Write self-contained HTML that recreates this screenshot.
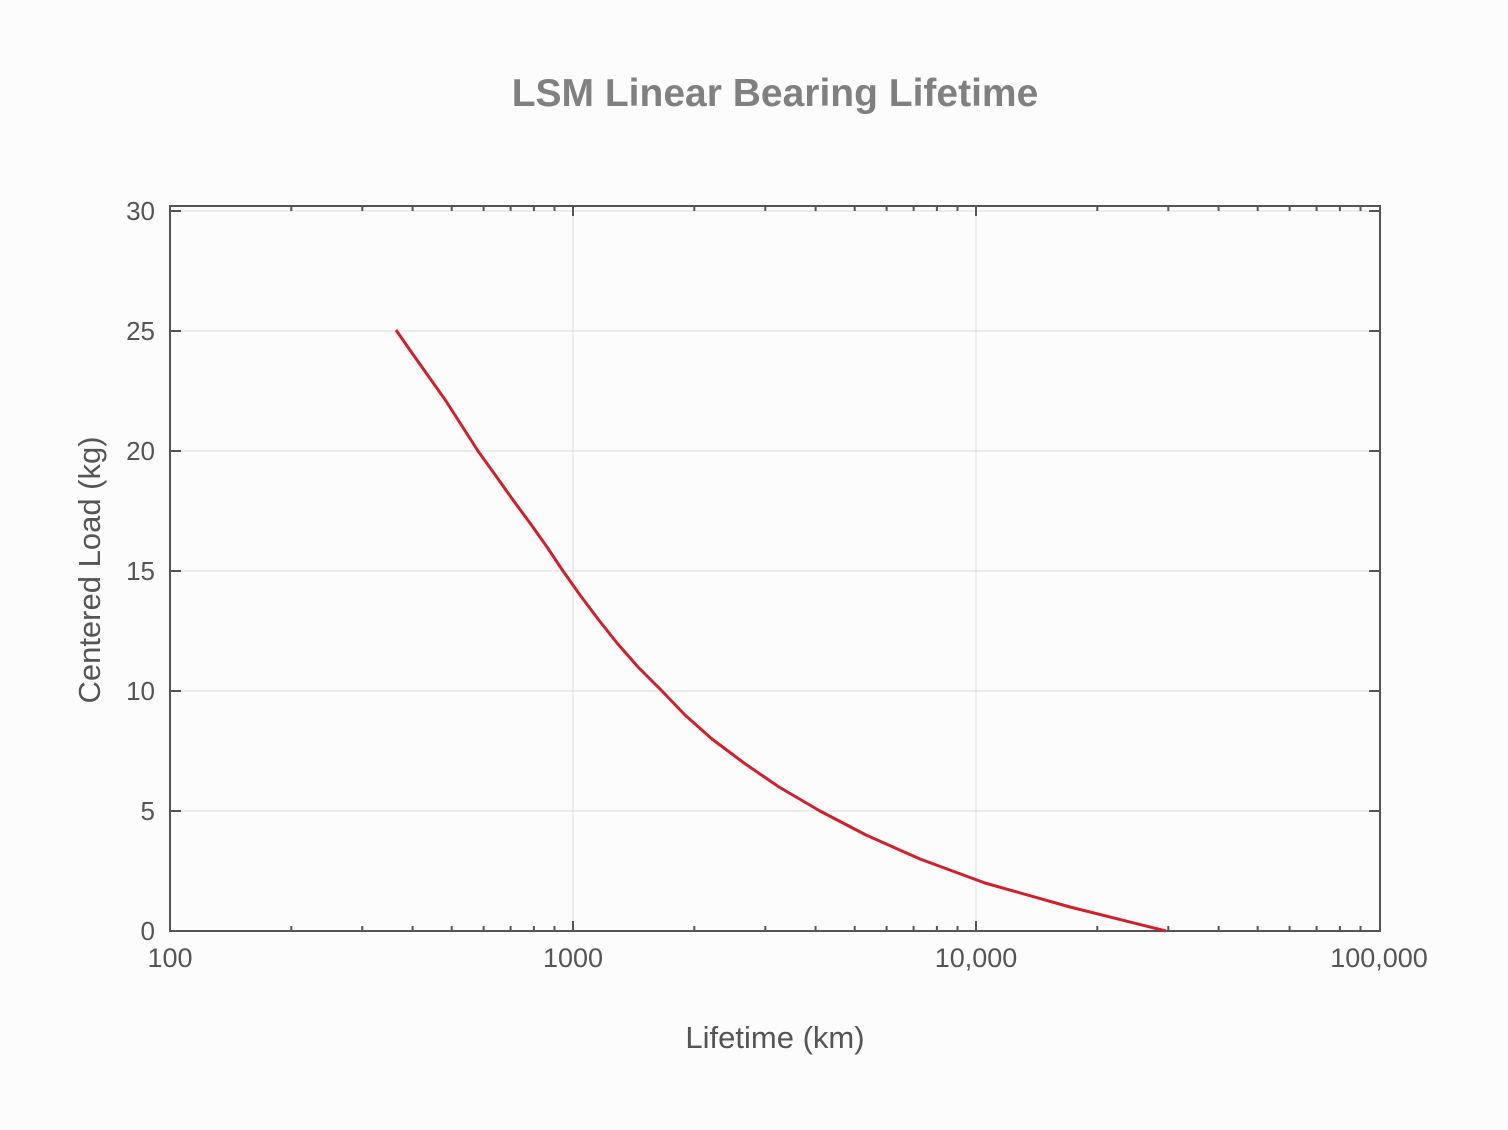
<!DOCTYPE html>
<html><head><meta charset="utf-8"><style>
html,body{margin:0;padding:0;background:#fcfcfc;}
svg{display:block;font-family:"Liberation Sans",Arial,sans-serif;}
</style></head><body>
<svg width="1508" height="1130" viewBox="0 0 1508 1130">
<rect width="1508" height="1130" fill="#fcfcfc"/>
<text x="775" y="106" text-anchor="middle" font-size="39" font-weight="bold" fill="#808080">LSM Linear Bearing Lifetime</text>
<g stroke="#dcdcdc" stroke-width="1">
<line x1="170" y1="211" x2="1380" y2="211"/><line x1="170" y1="331" x2="1380" y2="331"/>
<line x1="170" y1="451" x2="1380" y2="451"/><line x1="170" y1="571" x2="1380" y2="571"/>
<line x1="170" y1="691" x2="1380" y2="691"/><line x1="170" y1="811" x2="1380" y2="811"/>
<line x1="573" y1="206" x2="573" y2="931"/><line x1="976" y1="206" x2="976" y2="931"/>
</g>
<g stroke="#555" stroke-width="2">
<path d="M291.3 206v5M362.3 206v5M412.6 206v5M451.7 206v5M483.6 206v5M510.6 206v5M533.9 206v5M554.5 206v5M694.3 206v5M765.3 206v5M815.6 206v5M854.7 206v5M886.6 206v5M913.6 206v5M936.9 206v5M957.5 206v5M1097.3 206v5M1168.3 206v5M1218.6 206v5M1257.7 206v5M1289.6 206v5M1316.6 206v5M1339.9 206v5M1360.5 206v5M573 206v10M976 206v10"/>
<path d="M291.3 931v-5M362.3 931v-5M412.6 931v-5M451.7 931v-5M483.6 931v-5M510.6 931v-5M533.9 931v-5M554.5 931v-5M694.3 931v-5M765.3 931v-5M815.6 931v-5M854.7 931v-5M886.6 931v-5M913.6 931v-5M936.9 931v-5M957.5 931v-5M1097.3 931v-5M1168.3 931v-5M1218.6 931v-5M1257.7 931v-5M1289.6 931v-5M1316.6 931v-5M1339.9 931v-5M1360.5 931v-5M573 931v-10M976 931v-10"/>
<path d="M170 211h11M170 331h11M170 451h11M170 571h11M170 691h11M170 811h11M1380 211h-11M1380 331h-11M1380 451h-11M1380 571h-11M1380 691h-11M1380 811h-11"/>
<rect x="170" y="206" width="1210" height="725" fill="none"/>
</g>
<polyline fill="none" stroke="#d0202a" stroke-width="3" stroke-linejoin="round" points="396,330 412,353 446,401 478,451 496,476 513,500 530,523 547,547 563,571 580,595 598,619 617,643 638,667 662,691 685,715 712,739 744,763 779,787 820,811 866,835 920,859 985,883 1070,907 1166,931"/>
<g font-size="26" fill="#555" text-anchor="end">
<text x="155" y="220">30</text><text x="155" y="340">25</text><text x="155" y="460">20</text>
<text x="155" y="580">15</text><text x="155" y="700">10</text><text x="155" y="820">5</text><text x="155" y="940">0</text>
</g>
<g font-size="27" fill="#555" text-anchor="middle">
<text x="170" y="967">100</text><text x="573" y="967">1000</text><text x="976" y="967">10,000</text><text x="1379" y="967">100,000</text>
</g>
<text x="775" y="1048" text-anchor="middle" font-size="31" fill="#555">Lifetime (km)</text>
<text transform="translate(100,570) rotate(-90)" text-anchor="middle" font-size="31" fill="#555">Centered Load (kg)</text>
</svg>
</body></html>
